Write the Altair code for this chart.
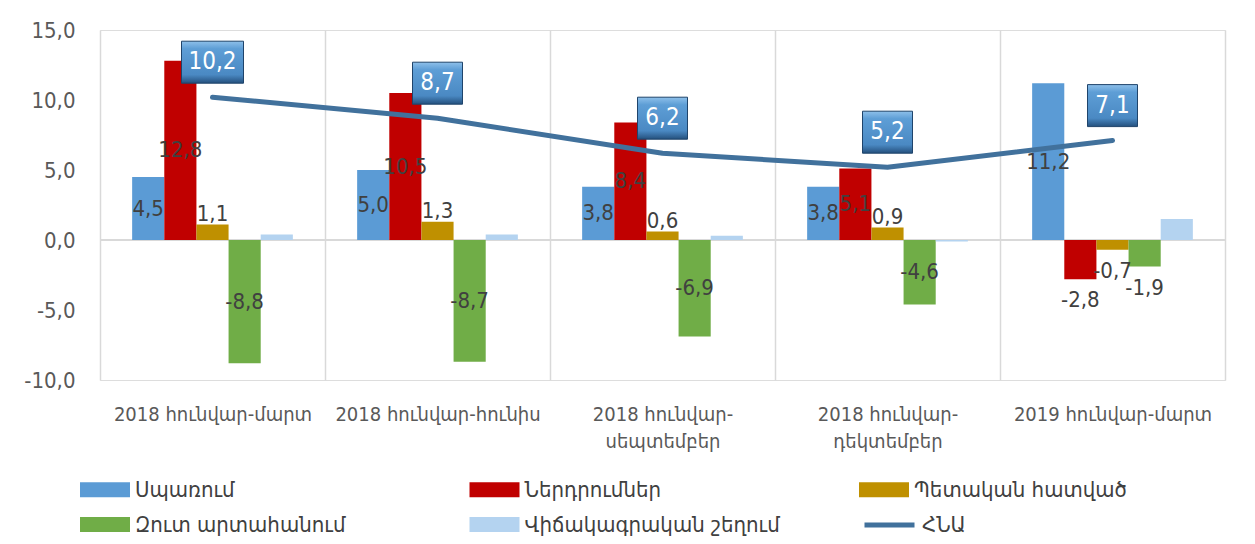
import altair as alt
import pandas as pd

categories = [
    "2018 հունվար-մարտ",
    "2018 հունվար-հունիս",
    "2018 հունվար-սեպտեմբեր",
    "2018 հունվար-դեկտեմբեր",
    "2019 հունվար-մարտ",
]
series_names = [
    "Սպառում",
    "Ներդրումներ",
    "Պետական հատված",
    "Զուտ արտահանում",
    "Վիճակագրական շեղում",
]
consumption = [4.5, 5.0, 3.8, 3.8, 11.2]
investment = [12.8, 10.5, 8.4, 5.1, -2.8]
government = [1.1, 1.3, 0.6, 0.9, -0.7]
net_exports = [-8.8, -8.7, -6.9, -4.6, -1.9]
stat_disc = [0.4, 0.4, 0.3, -0.1, 1.5]
gdp = [10.2, 8.7, 6.2, 5.2, 7.1]
gdp_name = "ՀՆԱ"
y_ticks = [-10, -5, 0, 5, 10, 15]

FONT = "DejaVu Sans Condensed, DejaVu Sans, sans-serif"
colors = ["#5B9BD5", "#C00000", "#BF9000", "#70AD47", "#B4D3F0"]
line_color = "#41719C"


def fmt(v):
    return f"{v:.1f}".replace(".", ",")


rows = []
for s, vals in zip(series_names, [consumption, investment, government, net_exports, stat_disc]):
    for c, v in zip(categories, vals):
        rows.append({"cat": c, "series": s, "value": v, "label": fmt(v)})
bars_df = pd.DataFrame(rows)
gdp_df = pd.DataFrame(
    {"cat": categories, "gdp": gdp, "label": [fmt(v) for v in gdp], "name": gdp_name}
)

x_enc = alt.X(
    "cat:N",
    sort=categories,
    scale=alt.Scale(domain=categories, paddingInner=0, paddingOuter=0),
    axis=alt.Axis(
        title=None,
        orient="bottom",
        grid=True,
        tickBand="extent",
        gridColor="#D9D9D9",
        gridWidth=1.5,
        domain=False,
        ticks=False,
        labelAngle=0,
        labelFontSize=20,
        labelColor="#595959",
        labelFont=FONT,
        labelPadding=24,
        labelLineHeight=27,
        labelLimit=400,
        labelExpr="length(datum.label) > 20 ? [slice(datum.label, 0, indexof(datum.label, '-') + 1), slice(datum.label, indexof(datum.label, '-') + 1)] : datum.label",
    ),
)

y_scale = alt.Scale(domain=[-10, 15], nice=False)
y_axis = alt.Axis(
    title=None,
    values=y_ticks,
    grid=False,
    domain=False,
    ticks=False,
    labelFontSize=22,
    labelColor="#595959",
    labelFont=FONT,
    labelPadding=25,
    labelExpr="replace(replace(format(datum.value, '.1f'), '.', ','), '\u2212', '-')",
)

xoff = alt.XOffset(
    "series:N",
    sort=series_names,
    scale=alt.Scale(domain=series_names, paddingInner=0, paddingOuter=1),
)

zero = alt.Chart(gdp_df).mark_rule(color="#D9D9D9", strokeWidth=2).encode(
    y=alt.Y("z:Q", scale=y_scale, axis=y_axis)
).transform_calculate(z="0")

bars = alt.Chart(bars_df).mark_bar().encode(
    x=x_enc,
    xOffset=xoff,
    y=alt.Y("value:Q", stack=None, scale=y_scale, axis=y_axis),
    color=alt.Color(
        "series:N",
        sort=series_names,
        scale=alt.Scale(domain=series_names, range=colors),
        legend=alt.Legend(
            title=None,
            orient="none",
            legendX=-7.5,
            legendY=447,
            direction="horizontal",
            columns=3,
            gridAlign="all",
            columnPadding=78.5,
            rowPadding=11,
            padding=0,
            symbolType="M-2,-0.6L2,-0.6L2,0.6L-2,0.6Z",
            symbolSize=625,
            symbolStrokeWidth=0,
            symbolOpacity=1,
            labelFontSize=22,
            labelFont=FONT,
            labelColor="#404040",
            labelOffset=17.5,
            labelLimit=400,
        ),
    ),
)

labels = (
    alt.Chart(bars_df)
    .transform_filter(alt.datum.series != series_names[4])
    .transform_calculate(
        ypos="abs(datum.value) >= 3 ? datum.value / 2 : (datum.value > 0 ? datum.value + 0.75 : datum.value - 1.5)"
    )
    .mark_text(fontSize=22, font=FONT, color="#404040", baseline="middle")
    .encode(
        x=x_enc,
        xOffset=xoff,
        y=alt.Y("ypos:Q", scale=y_scale, axis=y_axis),
        text="label:N",
    )
)

line = alt.Chart(gdp_df).mark_line(strokeWidth=5, strokeCap="round", strokeJoin="round").encode(
    x=x_enc,
    y=alt.Y("gdp:Q", scale=y_scale, axis=y_axis),
    stroke=alt.Stroke(
        "name:N",
        scale=alt.Scale(domain=[gdp_name], range=[line_color]),
        legend=alt.Legend(
            title=None,
            orient="none",
            legendX=774.5,
            legendY=480,
            padding=0,
            symbolType="M-2,0L2,0",
            symbolSize=625,
            symbolStrokeWidth=5,
            labelFontSize=22,
            labelFont=FONT,
            labelColor="#404040",
            labelOffset=17.5,
        ),
    ),
)

grad = alt.Gradient(
    gradient="linear",
    x1=0, x2=0, y1=0, y2=1,
    stops=[
        alt.GradientStop(color="#8EC0EA", offset=0),
        alt.GradientStop(color="#5E9ED6", offset=0.18),
        alt.GradientStop(color="#4A89C3", offset=0.8),
        alt.GradientStop(color="#24507D", offset=1),
    ],
)


def box_layer(wide, w):
    cond = "length(datum.label) > 3" if wide else "length(datum.label) <= 3"
    return (
        alt.Chart(gdp_df)
        .transform_filter(cond)
        .mark_bar(width=w, yOffset=-56, y2Offset=-14, fill=grad, stroke="#1F446B", strokeWidth=1)
        .encode(
            x=x_enc,
            y=alt.Y("gdp:Q", scale=y_scale, axis=y_axis),
            y2="gdp:Q",
        )
    )


box_text = alt.Chart(gdp_df).mark_text(
    fontSize=24, font=FONT, color="white", baseline="middle", dy=-35
).encode(
    x=x_enc,
    y=alt.Y("gdp:Q", scale=y_scale, axis=y_axis),
    text="label:N",
)

chart = (
    alt.layer(zero, bars, labels, line, box_layer(True, 62), box_layer(False, 50), box_text)
    .resolve_scale(color="independent")
    .properties(
        width=1125,
        height=350,
        autosize=alt.AutoSizeParams(type="none"),
        padding={"left": 92, "top": 22, "right": 22, "bottom": 163},
    )
    .configure_view(stroke=None)
    .configure(font=FONT)
)

chart.save("out.html", embed_options={"renderer": "svg", "actions": False})
